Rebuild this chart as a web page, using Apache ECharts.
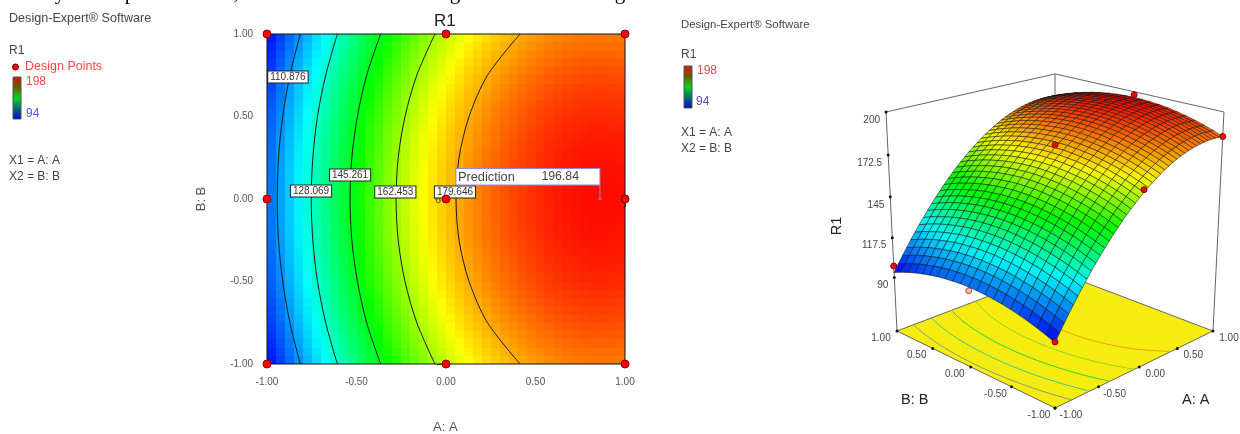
<!DOCTYPE html>
<html><head><meta charset="utf-8">
<style>html,body{margin:0;padding:0;background:#fff}#c{width:1240px;height:434px}</style>
<script src="https://cdn.jsdelivr.net/npm/echarts@6/dist/echarts.min.js"></script>
</head><body><div id="c"></div>
<script>
// A runs -1 .. 1 in steps of 0.05; one list per |B| level (the response is symmetric in B)
const aValues = [-1,-.95,-.9,-.85,-.8,-.75,-.7,-.65,-.6,-.55,-.5,-.45,-.4,-.35,-.3,-.25,-.2,-.15,-.1,-.05,0,.05,.1,.15,.2,.25,.3,.35,.4,.45,.5,.55,.6,.65,.7,.75,.8,.85,.9,.95,1];
const b000 = [105.4,110.3,115.0,119.5,124.0,128.3,132.5,136.5,140.5,144.2,147.9,151.4,154.8,158.1,161.2,164.2,167.1,169.8,172.4,174.9,177.2,179.4,181.5,183.4,185.2,186.9,188.5,189.9,191.2,192.3,193.3,194.2,195.0,195.6,196.1,196.4,196.7,196.8,196.7,196.6,196.3];
const b010 = [105.3,110.2,114.9,119.4,123.9,128.2,132.4,136.4,140.4,144.1,147.8,151.3,154.7,158.0,161.1,164.1,167.0,169.7,172.3,174.8,177.1,179.3,181.4,183.3,185.1,186.8,188.4,189.8,191.1,192.2,193.2,194.1,194.9,195.5,196.0,196.3,196.6,196.7,196.6,196.5,196.2];
const b015 = [105.1,110.0,114.7,119.2,123.7,128.0,132.2,136.2,140.2,143.9,147.6,151.1,154.5,157.8,160.9,163.9,166.8,169.5,172.1,174.6,176.9,179.1,181.2,183.1,184.9,186.6,188.2,189.6,190.9,192.0,193.0,193.9,194.7,195.3,195.8,196.1,196.4,196.5,196.4,196.3,196.0];
const b020 = [104.9,109.8,114.5,119.0,123.5,127.8,132.0,136.0,140.0,143.7,147.4,150.9,154.3,157.6,160.7,163.7,166.6,169.3,171.9,174.4,176.7,178.9,181.0,182.9,184.7,186.4,188.0,189.4,190.7,191.8,192.8,193.7,194.5,195.1,195.6,195.9,196.2,196.3,196.2,196.1,195.8];
const b025 = [104.7,109.6,114.3,118.8,123.3,127.6,131.8,135.8,139.8,143.5,147.2,150.7,154.1,157.4,160.5,163.5,166.4,169.1,171.7,174.2,176.5,178.7,180.8,182.7,184.5,186.2,187.8,189.2,190.5,191.6,192.6,193.5,194.3,194.9,195.4,195.7,196.0,196.1,196.0,195.9,195.6];
const b030 = [104.3,109.2,113.9,118.4,122.9,127.2,131.4,135.4,139.4,143.1,146.8,150.3,153.7,157.0,160.1,163.1,166.0,168.7,171.3,173.8,176.1,178.3,180.4,182.3,184.1,185.8,187.4,188.8,190.1,191.2,192.2,193.1,193.9,194.5,195.0,195.3,195.6,195.7,195.6,195.5,195.2];
const b035 = [103.9,108.8,113.5,118.0,122.5,126.8,131.0,135.0,139.0,142.7,146.4,149.9,153.3,156.6,159.7,162.7,165.6,168.3,170.9,173.4,175.7,177.9,180.0,181.9,183.7,185.4,187.0,188.4,189.7,190.8,191.8,192.7,193.5,194.1,194.6,194.9,195.2,195.3,195.2,195.1,194.8];
const b040 = [103.5,108.4,113.1,117.6,122.1,126.4,130.6,134.6,138.6,142.3,146.0,149.5,152.9,156.2,159.3,162.3,165.2,167.9,170.5,173.0,175.3,177.5,179.6,181.5,183.3,185.0,186.6,188.0,189.3,190.4,191.4,192.3,193.1,193.7,194.2,194.5,194.8,194.9,194.8,194.7,194.4];
const b045 = [103.0,107.9,112.6,117.1,121.6,125.9,130.1,134.1,138.1,141.8,145.5,149.0,152.4,155.7,158.8,161.8,164.7,167.4,170.0,172.5,174.8,177.0,179.1,181.0,182.8,184.5,186.1,187.5,188.8,189.9,190.9,191.8,192.6,193.2,193.7,194.0,194.3,194.4,194.3,194.2,193.9];
const b050 = [102.4,107.3,112.0,116.5,121.0,125.3,129.5,133.5,137.5,141.2,144.9,148.4,151.8,155.1,158.2,161.2,164.1,166.8,169.4,171.9,174.2,176.4,178.5,180.4,182.2,183.9,185.5,186.9,188.2,189.3,190.3,191.2,192.0,192.6,193.1,193.4,193.7,193.8,193.7,193.6,193.3];
const b055 = [101.8,106.7,111.4,115.9,120.4,124.7,128.9,132.9,136.9,140.6,144.3,147.8,151.2,154.5,157.6,160.6,163.5,166.2,168.8,171.3,173.6,175.8,177.9,179.8,181.6,183.3,184.9,186.3,187.6,188.7,189.7,190.6,191.4,192.0,192.5,192.8,193.1,193.2,193.1,193.0,192.7];
const b060 = [101.1,106.0,110.7,115.2,119.7,124.0,128.2,132.2,136.2,139.9,143.6,147.1,150.5,153.8,156.9,159.9,162.8,165.5,168.1,170.6,172.9,175.1,177.2,179.1,180.9,182.6,184.2,185.6,186.9,188.0,189.0,189.9,190.7,191.3,191.8,192.1,192.4,192.5,192.4,192.3,192.0];
const b065 = [100.4,105.3,110.0,114.5,119.0,123.3,127.5,131.5,135.5,139.2,142.9,146.4,149.8,153.1,156.2,159.2,162.1,164.8,167.4,169.9,172.2,174.4,176.5,178.4,180.2,181.9,183.5,184.9,186.2,187.3,188.3,189.2,190.0,190.6,191.1,191.4,191.7,191.8,191.7,191.6,191.3];
const b070 = [99.6,104.5,109.2,113.7,118.2,122.5,126.7,130.7,134.7,138.4,142.1,145.6,149.0,152.3,155.4,158.4,161.3,164.0,166.6,169.1,171.4,173.6,175.7,177.6,179.4,181.1,182.7,184.1,185.4,186.5,187.5,188.4,189.2,189.8,190.3,190.6,190.9,191.0,190.9,190.8,190.5];
const b075 = [98.7,103.6,108.3,112.8,117.3,121.6,125.8,129.8,133.8,137.5,141.2,144.7,148.1,151.4,154.5,157.5,160.4,163.1,165.7,168.2,170.5,172.7,174.8,176.7,178.5,180.2,181.8,183.2,184.5,185.6,186.6,187.5,188.3,188.9,189.4,189.7,190.0,190.1,190.0,189.9,189.6];
const b080 = [97.8,102.7,107.4,111.9,116.4,120.7,124.9,128.9,132.9,136.6,140.3,143.8,147.2,150.5,153.6,156.6,159.5,162.2,164.8,167.3,169.6,171.8,173.9,175.8,177.6,179.3,180.9,182.3,183.6,184.7,185.7,186.6,187.4,188.0,188.5,188.8,189.1,189.2,189.1,189.0,188.7];
const b085 = [96.8,101.7,106.4,110.9,115.4,119.7,123.9,127.9,131.9,135.6,139.3,142.8,146.2,149.5,152.6,155.6,158.5,161.2,163.8,166.3,168.6,170.8,172.9,174.8,176.6,178.3,179.9,181.3,182.6,183.7,184.7,185.6,186.4,187.0,187.5,187.8,188.1,188.2,188.1,188.0,187.7];
const b090 = [95.8,100.7,105.4,109.9,114.4,118.7,122.9,126.9,130.9,134.6,138.3,141.8,145.2,148.5,151.6,154.6,157.5,160.2,162.8,165.3,167.6,169.8,171.9,173.8,175.6,177.3,178.9,180.3,181.6,182.7,183.7,184.6,185.4,186.0,186.5,186.8,187.1,187.2,187.1,187.0,186.7];
const b095 = [94.7,99.6,104.3,108.8,113.3,117.6,121.8,125.8,129.8,133.5,137.2,140.7,144.1,147.4,150.5,153.5,156.4,159.1,161.7,164.2,166.5,168.7,170.8,172.7,174.5,176.2,177.8,179.2,180.5,181.6,182.6,183.5,184.3,184.9,185.4,185.7,186.0,186.1,186.0,185.9,185.6];
const b100 = [93.5,98.4,103.1,107.6,112.1,116.4,120.6,124.6,128.6,132.3,136.0,139.5,142.9,146.2,149.3,152.3,155.2,157.9,160.5,163.0,165.3,167.5,169.6,171.5,173.3,175.0,176.6,178.0,179.3,180.4,181.4,182.3,183.1,183.7,184.2,184.5,184.8,184.9,184.8,184.7,184.4];
// rows from B=-1 to B=+1 in steps of 0.05
const bValues = [-1,-.95,-.9,-.85,-.8,-.75,-.7,-.65,-.6,-.55,-.5,-.45,-.4,-.35,-.3,-.25,-.2,-.15,-.1,-.05,0,.05,.1,.15,.2,.25,.3,.35,.4,.45,.5,.55,.6,.65,.7,.75,.8,.85,.9,.95,1];
const rows = [b100,b095,b090,b085,b080,b075,b070,b065,b060,b055,b050,b045,b040,b035,b030,b025,b020,b015,b010,b000,b000,b000,b010,b015,b020,b025,b030,b035,b040,b045,b050,b055,b060,b065,b070,b075,b080,b085,b090,b095,b100];

// contour lines: A position at each B
const contourB = [-1,-.75,-.5,-.25,0,.25,.5,.75,1];
const contourA110 = [-.814,-.872,-.912,-.936,-.943,-.936,-.912,-.872,-.814];
const contourA128 = [-.607,-.672,-.718,-.744,-.753,-.744,-.718,-.672,-.607];
const contourA145 = [-.365,-.443,-.495,-.526,-.536,-.526,-.495,-.443,-.365];
const contourA162 = [-.062,-.163,-.229,-.267,-.279,-.267,-.229,-.163,-.062];
const contourA179 = [.414,.232,.129,.073,.056,.073,.129,.232,.414];
const contourLevels = ['110.876','128.069','145.261','162.453','179.646'];
const labelA = [-.883,-.754,-.536,-.283,.05];
const labelB = [.74,.048,.145,.042,.042];
const contourFloorColors = ['#7f9f7f','#3fc77f','#2fd02f','#8fd51f','#e8a010'];

const designA = [-1,0,1,-1,0,1,-1,0,1];
const designB = [1,1,1,0,0,0,-1,-1,-1];
const surfPointA = [-1,-1,1,1,0,0];
const surfPointB = [-1,1,-1,0,0,-1];
const surfPointR = [94,98,184.4,198,179,167];
const hiddenPoint = [-1,0,103];
const predictionAt = [.86,0];
const rTicks = [200,172.5,145,117.5,90];
const floorTicks = [1,.5,0,-.5,-1];

const stops = [[94,0,0,255],[123,0,255,255],[148,0,255,0],[171,255,255,0],[198,255,0,0]];
function ramp(v,st,k){k=k||1;v=Math.max(st[0][0],Math.min(st[4][0],v));
  for(let i=0;i<4;i++){if(v<=st[i+1][0]){const t=(v-st[i][0])/(st[i+1][0]-st[i][0]);
    const c=[1,2,3].map(n=>Math.round((st[i][n]+(st[i+1][n]-st[i][n])*t)*k));return 'rgb('+c.join(',')+')';}}
}
// perspective view used by the 3D panel, giving pixel-scale coordinates on a hidden axis pair
const R_FLOOR=52,R_TOP=200;
function proj(A,B,R){const d=(A-B)/2,t=(A+B)/2,w=(R-R_FLOOR)/(R_TOP-R_FLOOR);
  const q=1+.124*t-.065*w;return [1055+158*d/q,(331-26.4*t-226.3*w)/q];}

const cells=[];for(let j=0;j<40;j++)for(let i=0;i<40;i++)cells.push([i,j]);
function heatItem(p,api){const i=api.value(0),j=api.value(1);
  const a=api.coord([aValues[i],bValues[j+1]]),b=api.coord([aValues[i+1],bValues[j]]);
  const v=(rows[j][i]+rows[j][i+1]+rows[j+1][i]+rows[j+1][i+1])/4;
  const x=Math.round(a[0]),y=Math.round(a[1]);
  return {type:'rect',shape:{x:x,y:y,width:Math.round(b[0])-x,height:Math.round(b[1])-y},style:{fill:ramp(v,stops)},silent:true};}

// the 3D mesh: 40 facets along A, 20 along B
const quads=[];for(let j=0;j<40;j+=2)for(let i=0;i<40;i++)quads.push([i,j]);
quads.sort((p,q)=>(aValues[q[0]]+bValues[q[1]])-(aValues[p[0]]+bValues[p[1]]));
function quadItem(p,api){const i=api.value(0),j=api.value(1);
  const c=[[i,j],[i+1,j],[i+1,j+2],[i,j+2]].map(k=>api.coord(proj(aValues[k[0]],bValues[k[1]],rows[k[1]][k[0]])));
  const v=(rows[j][i]+rows[j][i+1]+rows[j+2][i]+rows[j+2][i+1])/4;
  return {type:'polygon',shape:{points:c},style:{fill:ramp(v,stops,.97),stroke:'rgba(10,10,10,.72)',lineWidth:.7},silent:true};}

const contours=[contourA110,contourA128,contourA145,contourA162,contourA179];
const F='"Liberation Sans",Arial,sans-serif';
function txt(x,y,s,size,fill,extra){return Object.assign({type:'text',silent:true,z:20,style:{x:x,y:y,text:s,font:size+'px '+F,fill:fill,textVerticalAlign:'middle'}},extra||{});}
function cut(x,s){return {type:'text',silent:true,style:{x:x,y:-6.5,text:s,font:'21px "Liberation Serif",serif',fill:'#000',textAlign:'center',textVerticalAlign:'middle'}};}
function bar(x,y){return {type:'rect',silent:true,shape:{x:x,y:y,width:8,height:42},style:{stroke:'#555',lineWidth:1,fill:new echarts.graphic.LinearGradient(0,0,0,1,[{offset:0,color:'#e01000'},{offset:.25,color:'#6a5a00'},{offset:.5,color:'#00d820'},{offset:.75,color:'#006a70'},{offset:1,color:'#0000d8'}])}};}

const option={animation:false,backgroundColor:'#fff',
 graphic:{elements:[
  cut(60,'y'),cut(130,'p'),cut(236,','),cut(455,'g'),cut(620,'g'),
  txt(9,19,'Design-Expert® Software',12.6,'#444'),
  txt(9,51,'R1',12,'#444'),
  {type:'circle',silent:true,shape:{cx:15.5,cy:67,r:3},style:{fill:'#f00',stroke:'#600',lineWidth:1}},
  txt(25,67,'Design Points',12.5,'#f44'),
  bar(13,77),txt(26,82,'198',12,'#f44'),txt(26,114,'94',12,'#55f'),
  txt(9,161,'X1 = A: A',12,'#444'),txt(9,177,'X2 = B: B',12,'#444'),
  txt(434,21,'R1',17,'#222'),
  txt(433,427,'A: A',13,'#555'),
  txt(201,199,'B: B',13,'#555',{rotation:Math.PI/2,originX:201,originY:199,style:{x:201,y:199,text:'B: B',font:'13px '+F,fill:'#555',textAlign:'center',textVerticalAlign:'middle'}}),
  txt(681,25,'Design-Expert® Software',11.4,'#444'),
  txt(681,55,'R1',12,'#444'),
  bar(684,66),txt(697,71,'198',12,'#c55'),txt(696,102,'94',12,'#55b'),
  txt(681,133,'X1 = A: A',12,'#444'),txt(681,149,'X2 = B: B',12,'#444'),
  txt(837,226,'R1',14.5,'#222',{rotation:Math.PI/2,originX:837,originY:226,style:{x:837,y:226,text:'R1',font:'14.5px '+F,fill:'#222',textAlign:'center',textVerticalAlign:'middle'}}),
  txt(901,400,'B: B',14.5,'#222'),txt(1182,400,'A: A',14.5,'#222')
 ]},
 grid:[{left:267,top:34,width:358,height:330},{left:0,top:0,width:1240,height:434}],
 xAxis:[{gridIndex:0,type:'value',min:-1,max:1,interval:.5,splitLine:{show:false},
   axisLine:{lineStyle:{color:'#111'}},axisTick:{length:8,lineStyle:{color:'#555'}},
   axisLabel:{color:'#555',fontSize:10,fontFamily:F,margin:13,hideOverlap:false,showMinLabel:true,showMaxLabel:true,formatter:v=>v.toFixed(2)}},
  {gridIndex:1,type:'value',min:0,max:1240,show:false}],
 yAxis:[{gridIndex:0,type:'value',min:-1,max:1,interval:.5,splitLine:{show:false},
   axisLine:{lineStyle:{color:'#111'}},axisTick:{length:9,lineStyle:{color:'#555'}},
   axisLabel:{color:'#555',fontSize:10,fontFamily:F,margin:14,showMinLabel:true,showMaxLabel:true,formatter:v=>v.toFixed(2)}},
  {gridIndex:1,type:'value',min:0,max:434,inverse:true,show:false}],
 series:[
  {type:'custom',xAxisIndex:0,yAxisIndex:0,data:cells,renderItem:heatItem,progressive:0,silent:true,clip:true,z:2},
  ...contours.map(c=>({type:'line',xAxisIndex:0,yAxisIndex:0,data:c.map((a,k)=>[a,contourB[k]]),smooth:.3,showSymbol:false,symbol:'none',silent:true,lineStyle:{color:'#1a1a1a',width:1},z:3})),
  {type:'custom',xAxisIndex:0,yAxisIndex:0,data:[[0]],silent:true,clip:false,z:4,renderItem:(p,api)=>{
    const a=api.coord([-1,1]),b=api.coord([1,-1]);
    return {type:'rect',shape:{x:a[0],y:a[1],width:b[0]-a[0],height:b[1]-a[1]},style:{fill:null,stroke:'#111',lineWidth:1}};}},
  {type:'custom',xAxisIndex:0,yAxisIndex:0,data:[[0,0]],silent:true,clip:false,z:5,renderItem:(p,api)=>{
    const c=api.coord([0,0]);return {type:'text',style:{x:c[0]-8,y:c[1]+1,text:'6',font:'11px '+F,fill:'#444',textAlign:'center',textVerticalAlign:'middle'}};}},
  {type:'scatter',xAxisIndex:0,yAxisIndex:0,data:labelA.map((a,k)=>({value:[a,labelB[k]],label:{formatter:contourLevels[k]}})),symbolSize:0,silent:true,clip:false,z:7,itemStyle:{opacity:1},
    label:{show:true,position:'inside',fontSize:10,fontFamily:F,color:'#333',backgroundColor:'#fff',borderColor:'#222',borderWidth:1,padding:[1,2,0,2],opacity:1}},
  {type:'scatter',xAxisIndex:0,yAxisIndex:0,data:designA.map((a,k)=>[a,designB[k]]),symbolSize:8,silent:true,clip:false,z:8,itemStyle:{color:'#f00',borderColor:'#800',borderWidth:1,opacity:1}},
  {type:'custom',xAxisIndex:0,yAxisIndex:0,data:[predictionAt],silent:true,clip:false,z:9,renderItem:(p,api)=>{
    const c=api.coord([api.value(0),api.value(1)]);const x=c[0],y=c[1];
    return {type:'group',children:[
      {type:'rect',shape:{x:x-144,y:y-30.5,width:144,height:16.5},style:{fill:'#fff',stroke:'#8a8ae0',lineWidth:1}},
      {type:'line',shape:{x1:x,y1:y-14,x2:x,y2:y},style:{stroke:'#8a8ae0',lineWidth:1}},
      {type:'line',shape:{x1:x-2,y1:y,x2:x+2,y2:y},style:{stroke:'#8a8ae0',lineWidth:1}},
      {type:'text',style:{x:x-142,y:y-22,text:'Prediction',font:'12.8px '+F,fill:'#444',textVerticalAlign:'middle'}},
      {type:'text',style:{x:x-58.5,y:y-22,text:'196.84',font:'12.3px '+F,fill:'#444',textVerticalAlign:'middle'}}]};}},
  // 3D panel: box and floor
  {type:'custom',xAxisIndex:1,yAxisIndex:1,data:[[0]],silent:true,clip:false,z:10,renderItem:(p,api)=>{
    const P=(a,b,r)=>api.coord(proj(a,b,r));
    const kids=[];
    const ln=(u,v)=>kids.push({type:'line',shape:{x1:u[0],y1:u[1],x2:v[0],y2:v[1]},style:{stroke:'#666',lineWidth:1}});
    ln(P(-1,1,R_TOP),P(1,1,R_TOP));ln(P(1,1,R_TOP),P(1,-1,R_TOP));
    ln(P(-1,1,R_TOP),P(-1,1,R_FLOOR));ln(P(1,-1,R_TOP),P(1,-1,R_FLOOR));ln(P(1,1,R_TOP),P(1,1,R_FLOOR));
    kids.push({type:'polygon',shape:{points:[P(-1,-1,R_FLOOR),P(-1,1,R_FLOOR),P(1,1,R_FLOOR),P(1,-1,R_FLOOR)]},style:{fill:'#f6ec10',stroke:'#666',lineWidth:1}});
    contours.forEach((c,n)=>{kids.push({type:'polyline',shape:{points:c.map((a,k)=>P(a,contourB[k],R_FLOOR)),smooth:.3},style:{fill:null,stroke:contourFloorColors[n],lineWidth:1}});});
    return {type:'group',children:kids};}},
  {type:'scatter',xAxisIndex:1,yAxisIndex:1,data:[proj(hiddenPoint[0],hiddenPoint[1],hiddenPoint[2])],symbolSize:6,silent:true,clip:false,z:10.5,itemStyle:{color:'#f3b8a8',borderColor:'#a55',borderWidth:1,opacity:1}},
  {type:'custom',xAxisIndex:1,yAxisIndex:1,data:quads,renderItem:quadItem,progressive:0,silent:true,clip:false,z:11},
  {type:'scatter',xAxisIndex:1,yAxisIndex:1,data:surfPointA.map((a,k)=>proj(a,surfPointB[k],surfPointR[k])),symbolSize:6,silent:true,clip:false,z:12,itemStyle:{color:'#e01010',borderColor:'#900',borderWidth:1,opacity:1}},
  {type:'scatter',xAxisIndex:1,yAxisIndex:1,data:rTicks.map(r=>proj(-1,1,r)).concat(floorTicks.map(b=>proj(-1,b,R_FLOOR)),floorTicks.map(a=>proj(a,-1,R_FLOOR))),symbolSize:3,silent:true,clip:false,z:12,itemStyle:{color:'#111',opacity:1}},
  {type:'custom',xAxisIndex:1,yAxisIndex:1,data:[[0]],silent:true,clip:false,z:13,renderItem:(p,api)=>{
    const kids=[];const T=(xy,dx,dy,s,al)=>{const c=api.coord(xy);kids.push({type:'text',style:{x:c[0]+dx,y:c[1]+dy,text:s,font:'10px '+F,fill:'#444',textAlign:al,textVerticalAlign:'middle'}});};
    rTicks.forEach(r=>T(proj(-1,1,r),-6,8,String(r),'right'));
    floorTicks.forEach(b=>T(proj(-1,b,R_FLOOR),-16,7,b.toFixed(2),'center'));
    floorTicks.forEach(a=>T(proj(a,-1,R_FLOOR),16,7,a.toFixed(2),'center'));
    return {type:'group',children:kids};}}
 ]};
const chart=echarts.init(document.getElementById('c'),null,{renderer:'canvas'});
chart.setOption(option);
</script></body></html>
